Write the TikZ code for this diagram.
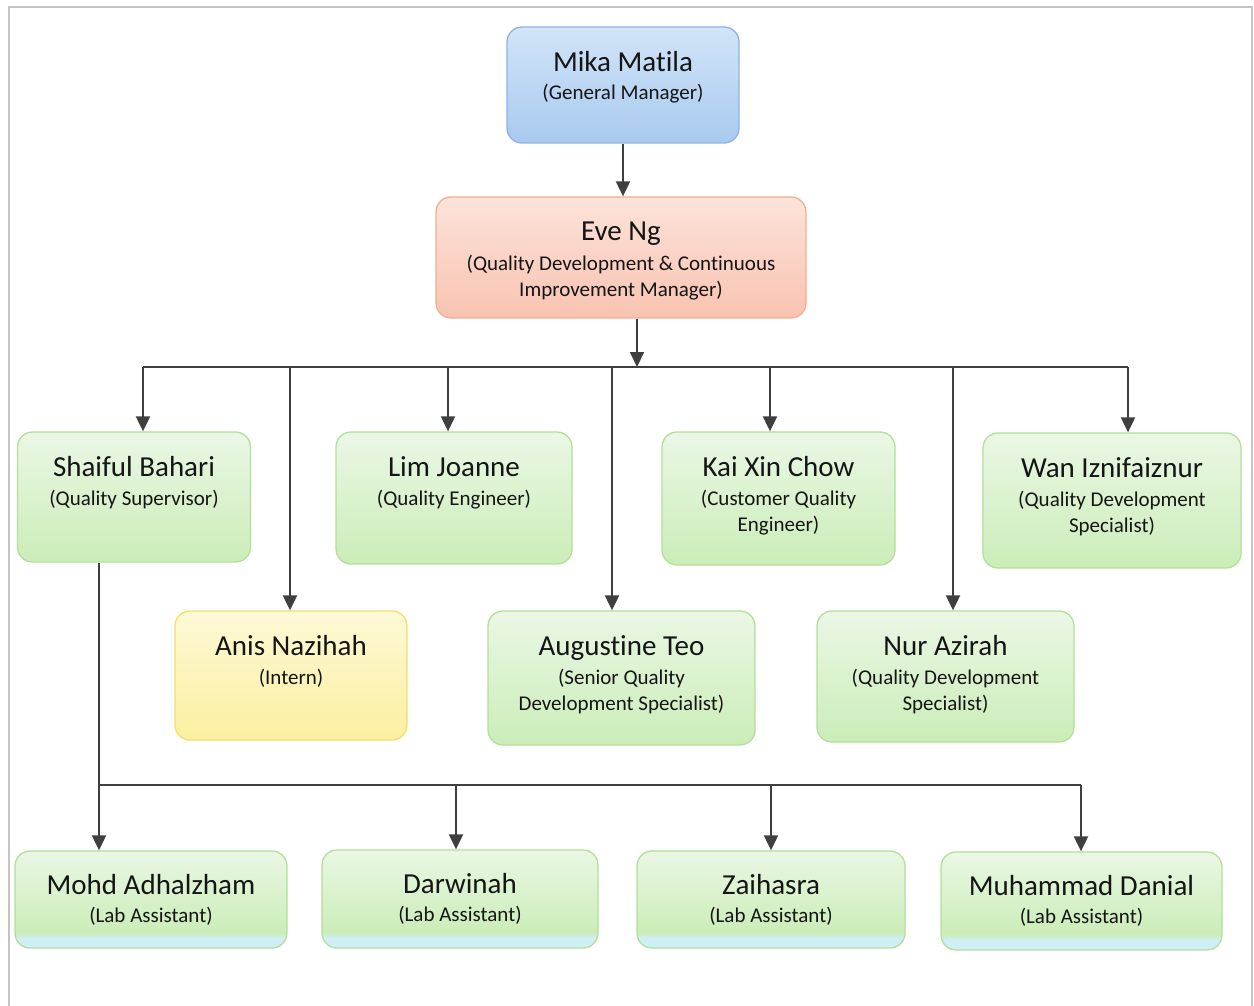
\documentclass[tikz,border=0pt]{standalone}
\usepackage{fontspec}
\setmainfont{Carlito}[Ligatures={NoCommon,NoRequired,NoContextual}]
\usetikzlibrary{arrows.meta}
\definecolor{frm}{HTML}{C4C4C4}
\definecolor{arrc}{HTML}{3F3F3F}
\definecolor{txt}{HTML}{151515}
\definecolor{btop}{HTML}{D2E4F8}
\definecolor{bbot}{HTML}{A8CAEF}
\definecolor{bbrd}{HTML}{8DB3E2}
\definecolor{ptop}{HTML}{FCE3DA}
\definecolor{pbot}{HTML}{F9C3B1}
\definecolor{pbrd}{HTML}{F3AE8E}
\definecolor{gtop}{HTML}{EAF7E5}
\definecolor{gbot}{HTML}{CBEDB8}
\definecolor{gbrd}{HTML}{B3DF99}
\definecolor{ctop}{HTML}{D0EEF5}
\definecolor{ytop}{HTML}{FDF9D6}
\definecolor{ybot}{HTML}{FCEFA0}
\definecolor{ybrd}{HTML}{F3DE6E}
\pgfdeclareverticalshading{labshade}{100bp}{color(0bp)=(ctop); color(25bp)=(ctop); color(30bp)=(ctop); color(33bp)=(gbot); color(75bp)=(gtop); color(100bp)=(gtop)}
\begin{document}
\begin{tikzpicture}[x=1pt,y=-1pt,
  boxbase/.style={rounded corners=15pt,line width=1.3pt,inner sep=0pt},
  bluebox/.style={boxbase,draw=bbrd,top color=btop,bottom color=bbot},
  pinkbox/.style={boxbase,draw=pbrd,top color=ptop,bottom color=pbot},
  greenbox/.style={boxbase,draw=gbrd,top color=gtop,bottom color=gbot},
  labbox/.style={boxbase,draw=gbrd,shade,shading=labshade},
  yellowbox/.style={boxbase,draw=ybrd,top color=ytop,bottom color=ybot},
  nm/.style={font=\fontsize{29}{34}\selectfont,anchor=base,inner sep=0pt,text=txt},
  sb/.style={font=\fontsize{21}{26}\selectfont,anchor=base,inner sep=0pt,text=txt},
  arr/.style={draw=arrc,line width=2pt,-{Triangle[width=14pt,length=15pt]}},
  ln/.style={draw=arrc,line width=2pt}]
\useasboundingbox (0,0) rectangle (1254,1006);
% frame
\draw[frm,line width=2pt] (9,1006) -- (9,7) -- (1252,7) -- (1252,1006);

% boxes
\node[bluebox,minimum width=232pt,minimum height=116pt] (mika) at (623,85) {};
\node[pinkbox,minimum width=370pt,minimum height=121pt] (eve) at (621,257.5) {};
\node[greenbox,minimum width=233pt,minimum height=130pt] (shaiful) at (134,497) {};
\node[greenbox,minimum width=236pt,minimum height=132pt] (lim) at (454,498) {};
\node[greenbox,minimum width=233pt,minimum height=133pt] (kai) at (778.5,498.5) {};
\node[greenbox,minimum width=258pt,minimum height=135pt] (wan) at (1112,500.5) {};
\node[yellowbox,minimum width=232pt,minimum height=129pt] (anis) at (291,675.5) {};
\node[greenbox,minimum width=267pt,minimum height=134pt] (aug) at (621.5,678) {};
\node[greenbox,minimum width=257pt,minimum height=131pt] (nur) at (945.5,676.5) {};
\node[labbox,minimum width=272pt,minimum height=97pt] (mohd) at (151,899.5) {};
\node[labbox,minimum width=276pt,minimum height=98pt] (darw) at (460,899) {};
\node[labbox,minimum width=268pt,minimum height=97pt] (zaih) at (771,899.5) {};
\node[labbox,minimum width=281pt,minimum height=98pt] (muh) at (1081.5,901) {};

% texts
\node[nm] (t1) at ([yshift=-45pt]mika.north) {Mika Matila};
\node[sb] (t1a) at ([yshift=-73pt]mika.north) {(General Manager)};
\node[nm] (t2) at ([yshift=-44pt]eve.north) {Eve Ng};
\node[sb] (t2a) at ([yshift=-74pt]eve.north) {(Quality Development \& Continuous};
\node[sb] (t2b) at ([yshift=-100pt]eve.north) {Improvement Manager)};
\node[nm] (t3) at ([yshift=-45pt]shaiful.north) {Shaiful Bahari};
\node[sb] (t3a) at ([yshift=-74pt]shaiful.north) {(Quality Supervisor)};
\node[nm] (t4) at ([yshift=-45pt]lim.north) {Lim Joanne};
\node[sb] (t4a) at ([yshift=-74pt]lim.north) {(Quality Engineer)};
\node[nm] (t5) at ([yshift=-45pt]kai.north) {Kai Xin Chow};
\node[sb] (t5a) at ([yshift=-74pt]kai.north) {(Customer Quality};
\node[sb] (t5b) at ([yshift=-100pt]kai.north) {Engineer)};
\node[nm] (t6) at ([yshift=-45pt]wan.north) {Wan Iznifaiznur};
\node[sb] (t6a) at ([yshift=-74pt]wan.north) {(Quality Development};
\node[sb] (t6b) at ([yshift=-100pt]wan.north) {Specialist)};
\node[nm] (t7) at ([yshift=-45pt]anis.north) {Anis Nazihah};
\node[sb] (t7a) at ([yshift=-74pt]anis.north) {(Intern)};
\node[nm] (t8) at ([yshift=-45pt]aug.north) {Augustine Teo};
\node[sb] (t8a) at ([yshift=-74pt]aug.north) {(Senior Quality};
\node[sb] (t8b) at ([yshift=-100pt]aug.north) {Development Specialist)};
\node[nm] (t9) at ([yshift=-45pt]nur.north) {Nur Azirah};
\node[sb] (t9a) at ([yshift=-74pt]nur.north) {(Quality Development};
\node[sb] (t9b) at ([yshift=-100pt]nur.north) {Specialist)};
\node[nm] (t10) at ([yshift=-44pt]mohd.north) {Mohd Adhalzham};
\node[sb] (t10a) at ([yshift=-72pt]mohd.north) {(Lab Assistant)};
\node[nm] (t11) at ([yshift=-44pt]darw.north) {Darwinah};
\node[sb] (t11a) at ([yshift=-72pt]darw.north) {(Lab Assistant)};
\node[nm] (t12) at ([yshift=-44pt]zaih.north) {Zaihasra};
\node[sb] (t12a) at ([yshift=-72pt]zaih.north) {(Lab Assistant)};
\node[nm] (t13) at ([yshift=-44pt]muh.north) {Muhammad Danial};
\node[sb] (t13a) at ([yshift=-72pt]muh.north) {(Lab Assistant)};

% connectors
\draw[arr] (mika.south) -- (mika.south |- eve.north);
\coordinate (e0) at (637,367);
\coordinate (d1) at (143,367);
\coordinate (d2) at (290,367);
\coordinate (d3) at (448,367);
\coordinate (d4) at (612,367);
\coordinate (d5) at (770,367);
\coordinate (d6) at (953,367);
\coordinate (d7) at (1128,367);
\draw[ln] (d1) -- (d7);
\draw[arr] (eve.south -| e0) -- (e0);
\draw[arr] (d1) -- (d1 |- shaiful.north);
\draw[arr] (d2) -- (d2 |- anis.north);
\draw[arr] (d3) -- (d3 |- lim.north);
\draw[arr] (d4) -- (d4 |- aug.north);
\draw[arr] (d5) -- (d5 |- kai.north);
\draw[arr] (d6) -- (d6 |- nur.north);
\draw[arr] (d7) -- (d7 |- wan.north);

\coordinate (s0) at (99,785);
\coordinate (s1) at (456,785);
\coordinate (s2) at (771,785);
\coordinate (s3) at (1081,785);
\draw[ln] (shaiful.south -| s0) -- (s0) -- (s3);
\draw[arr] (s0) -- (s0 |- mohd.north);
\draw[arr] (s1) -- (s1 |- darw.north);
\draw[arr] (s2) -- (s2 |- zaih.north);
\draw[arr] (s3) -- (s3 |- muh.north);
\end{tikzpicture}
\end{document}
